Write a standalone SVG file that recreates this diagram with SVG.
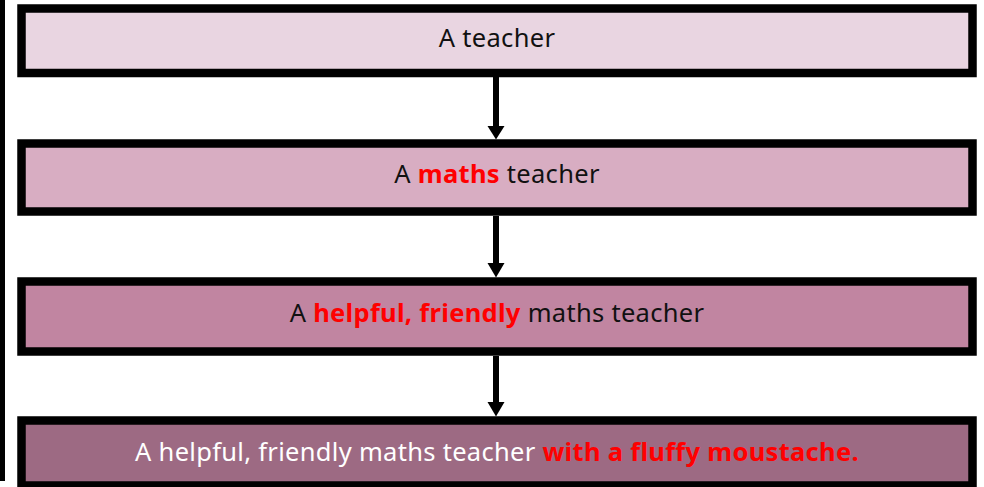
<svg xmlns="http://www.w3.org/2000/svg" width="984" height="487" viewBox="0 0 984 487">
<style>
.box{stroke:#000;stroke-width:8.5}
.t{font-family:"Noto Sans","Open Sans",sans-serif;font-size:25.5px;text-anchor:middle;letter-spacing:0.3px}
.r{fill:#FF0000;font-weight:bold}
.shaft{stroke:#000;stroke-width:6}
.head{fill:#000}
</style>
<rect x="0" y="0" width="5" height="481" fill="#000"/>
<g id="connectors">
<line class="shaft" x1="496" y1="77" x2="496" y2="128"/>
<polygon class="head" points="487.5,126 504.5,126 496,139.5"/>
<line class="shaft" x1="496" y1="216" x2="496" y2="265"/>
<polygon class="head" points="487.5,263 504.5,263 496,277.5"/>
<line class="shaft" x1="496" y1="356" x2="496" y2="404"/>
<polygon class="head" points="487.5,402 504.5,402 496,416.5"/>
</g>
<g id="node1">
<rect class="box" x="21.5" y="8.5" width="951" height="64.5" fill="#E9D5E1"/>
<text class="t" x="497" y="47" fill="#111">A teacher</text>
</g>
<g id="node2">
<rect class="box" x="21.5" y="143.5" width="951" height="68" fill="#D8ADC2"/>
<text class="t" x="497" y="183" fill="#111">A <tspan class="r">maths</tspan> teacher</text>
</g>
<g id="node3">
<rect class="box" x="21.5" y="281.5" width="951" height="70" fill="#C185A1"/>
<text class="t" x="497" y="322" fill="#111">A <tspan class="r">helpful, friendly</tspan> maths teacher</text>
</g>
<g id="node4">
<rect class="box" x="21.5" y="420.5" width="951" height="65" fill="#9D6A83"/>
<text class="t" x="497" y="461" fill="#FFFFFF">A helpful, friendly maths teacher <tspan class="r">with a fluffy moustache.</tspan></text>
</g>
</svg>
